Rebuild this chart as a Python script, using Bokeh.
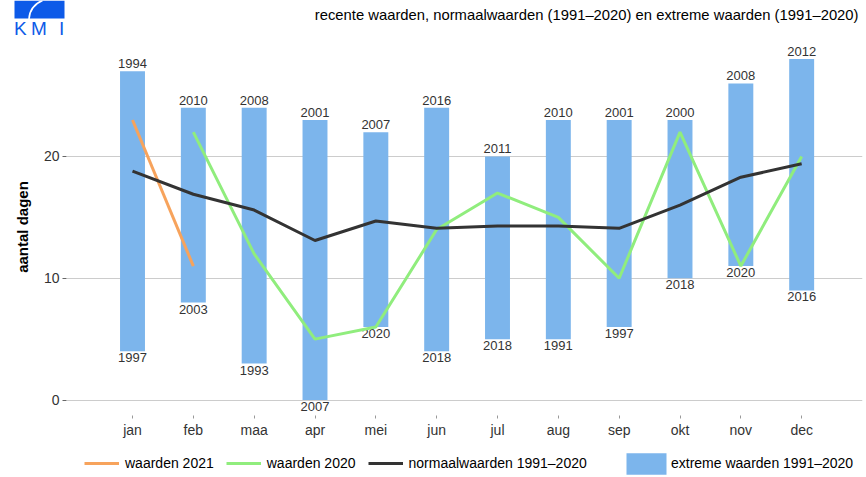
from bokeh.plotting import figure
from bokeh.layouts import column
from bokeh.models import Range1d, FixedTicker, Legend, LegendItem, ColumnDataSource
from bokeh.core.properties import value
from bokeh.embed import file_html
from bokeh.resources import INLINE

months = ["jan", "feb", "maa", "apr", "mei", "jun", "jul", "aug", "sep", "okt", "nov", "dec"]
ext_max = [27, 24, 24, 23, 22, 24, 20, 23, 23, 23, 26, 28]
ext_max_year = ["1994", "2010", "2008", "2001", "2007", "2016", "2011", "2010", "2001", "2000", "2008", "2012"]
ext_min = [4, 8, 3, 0, 6, 4, 5, 5, 6, 10, 11, 9]
ext_min_year = ["1997", "2003", "1993", "2007", "2020", "2018", "2018", "1991", "1997", "2018", "2020", "2016"]
normals = [18.8, 16.9, 15.6, 13.1, 14.7, 14.1, 14.3, 14.3, 14.1, 16.0, 18.3, 19.4]
values_2020 = [None, 22, 12, 5, 6, 14, 17, 15, 10, 22, 11, 20]
values_2021 = [23, 11]

title_text = "recente waarden, normaalwaarden (1991\u20132020) en extreme waarden (1991\u20132020)"
legend_labels = ["waarden 2021", "waarden 2020", "normaalwaarden 1991\u20132020", "extreme waarden 1991\u20132020"]

xs = list(range(1, 13))
FONT = "Liberation Sans"
TXT = "#333333"
BLUE = "#0d5ae8"
C_BAR, C21, C20, CN = "#7cb5ec", "#f7a35c", "#90ed7d", "#333333"
W = 866
HH, MH = 38, 404
FH = 477 - HH - MH


def blank_fig(h, yr):
    f = figure(width=W, height=h, output_backend="svg", toolbar_location=None,
               x_range=Range1d(0, W), y_range=yr, x_axis_location=None, y_axis_location=None,
               min_border=0, min_border_left=0, min_border_right=0,
               min_border_top=0, min_border_bottom=0)
    f.grid.visible = False
    f.outline_line_color = None
    f.background_fill_color = "white"
    f.border_fill_color = "white"
    f.frame_align = False
    return f


# ---------- header: logo + title ----------
hdr = blank_fig(HH, Range1d(HH, 0))
hdr.quad(left=[14], right=[64], top=[0], bottom=[18], fill_color=BLUE, line_color=None)
hdr.bezier(x0=[28.5], y0=[18.5], x1=[42], y1=[0], cx0=[29], cy0=[9], cx1=[35], cy1=[3],
           line_color="white", line_width=1.6)
hdr.text(x=[13.5, 30.5, 58.5], y=[27.5, 27.5, 27.5], text=["K", "M", "I"], text_align="left",
         text_baseline="middle", text_font=value(FONT), text_font_size="19px", text_color=BLUE)
hdr.text(x=[858], y=[14], text=[title_text], text_align="right", text_baseline="middle",
         text_font=value(FONT), text_font_size="14.8px", text_color="black")

# ---------- main chart ----------
p = figure(width=W, height=MH, output_backend="svg", toolbar_location=None,
           x_range=Range1d(-0.085, 13.0), y_range=Range1d(-1.27, 29.69),
           min_border_left=66, min_border_right=4, min_border_top=0, min_border_bottom=27)
p.outline_line_color = None
p.background_fill_color = "white"
p.border_fill_color = "white"
p.frame_align = False

src = ColumnDataSource(dict(x=xs, top=ext_max, bottom=ext_min, ty=ext_max_year, by=ext_min_year))
p.vbar(x="x", top="top", bottom="bottom", width=0.41, source=src, fill_color=C_BAR, line_color=None)

p.text(x="x", y="top", text="ty", source=src, text_align="center", text_baseline="bottom",
       y_offset=-3, text_font=value(FONT), text_font_size="13px", text_color=TXT)
p.text(x="x", y="bottom", text="by", source=src, text_align="center", text_baseline="top",
       y_offset=2, text_font=value(FONT), text_font_size="13px", text_color=TXT)

y2020 = [float("nan") if v is None else v for v in values_2020]
p.line(xs[:len(values_2021)], values_2021, line_color=C21, line_width=3)
p.line(xs, y2020, line_color=C20, line_width=3)
p.line(xs, normals, line_color=CN, line_width=3)

p.xaxis.ticker = FixedTicker(ticks=xs)
p.xaxis.major_label_overrides = {i: m for i, m in zip(xs, months)}
p.xaxis.axis_line_color = None
p.xaxis.major_tick_line_color = "#999999"
p.xaxis.major_tick_out = 3
p.xaxis.major_tick_in = 0
p.xaxis.minor_tick_line_color = None
p.xaxis.major_label_text_font = FONT
p.xaxis.major_label_text_font_size = "14px"
p.xaxis.major_label_text_color = TXT
p.xaxis.major_label_standoff = 3

p.yaxis.ticker = FixedTicker(ticks=[0, 10, 20])
p.yaxis.axis_line_color = None
p.yaxis.major_tick_line_color = "#666666"
p.yaxis.major_tick_out = 4
p.yaxis.major_tick_in = 0
p.yaxis.minor_tick_line_color = None
p.yaxis.major_label_text_font = FONT
p.yaxis.major_label_text_font_size = "14px"
p.yaxis.major_label_text_color = TXT
p.yaxis.major_label_standoff = 3
p.yaxis.axis_label = "aantal dagen"
p.yaxis.axis_label_text_font = FONT
p.yaxis.axis_label_text_font_size = "15px"
p.yaxis.axis_label_text_font_style = "bold"
p.yaxis.axis_label_text_color = "black"
p.yaxis.axis_label_standoff = 10

p.xgrid.grid_line_color = None
p.ygrid.grid_line_color = "#cccccc"
p.ygrid.grid_line_width = 1

# ---------- footer: legend ----------
ftr = blank_fig(FH, Range1d(0, FH))
# legend sample renderers, kept outside the visible range
r21 = ftr.line([-20, -10], [-20, -20], line_color=C21, line_width=3)
r20 = ftr.line([-20, -10], [-20, -20], line_color=C20, line_width=3)
rn = ftr.line([-20, -10], [-20, -20], line_color=CN, line_width=3)
rb = ftr.vbar(x=[-20], top=[-20], bottom=[-30], width=5, fill_color=C_BAR, line_color=None)

common = dict(orientation="horizontal", padding=0, margin=0,
              label_text_font=FONT, label_text_font_size="14px", label_text_color="black",
              border_line_color=None, background_fill_alpha=0)
leg1 = Legend(items=[LegendItem(label=legend_labels[0], renderers=[r21]),
                     LegendItem(label=legend_labels[1], renderers=[r20]),
                     LegendItem(label=legend_labels[2], renderers=[rn])],
              location=(84, 3), spacing=12, glyph_width=35, glyph_height=22,
              label_height=22, label_standoff=6, **common)
leg2 = Legend(items=[LegendItem(label=legend_labels[3], renderers=[rb])],
              location=(621, 0.5), spacing=0, glyph_width=50, glyph_height=27,
              label_height=27, label_standoff=0, **common)
ftr.add_layout(leg1, "center")
ftr.add_layout(leg2, "center")

layout = column(hdr, p, ftr, spacing=0)
html = file_html(layout, INLINE)
html = html.replace("<head>", "<head><style>body{margin:0 !important;}</style>", 1)
open("out.html", "w").write(html)
